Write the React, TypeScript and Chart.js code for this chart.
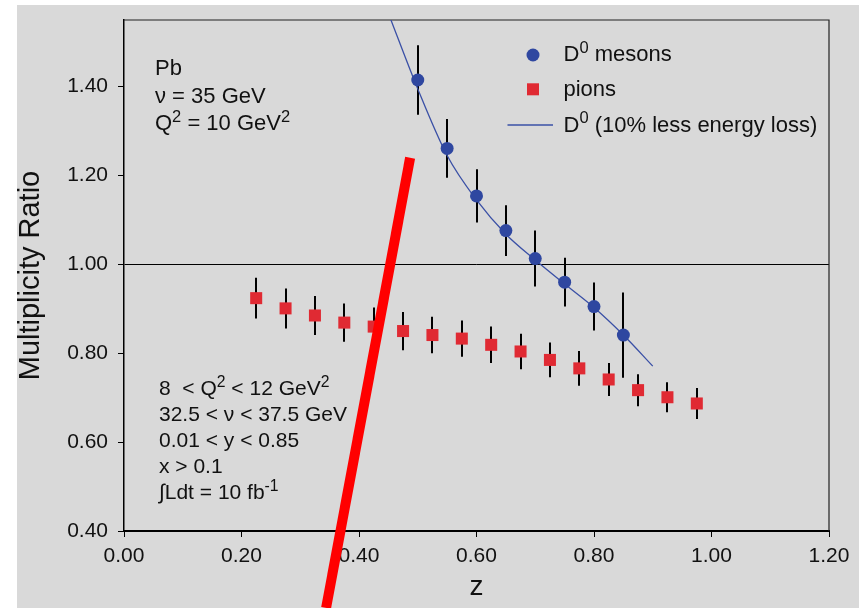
import React, { useEffect, useRef } from 'react';
import { Chart, registerables } from 'chart.js';

Chart.register(...registerables);

const FONT = '"Liberation Sans", Arial, Helvetica, sans-serif';

// D0 mesons (measured points)
const d0Z = [0.5, 0.55, 0.6, 0.65, 0.7, 0.75, 0.8, 0.85];
const d0Ratio = [1.415, 1.261, 1.154, 1.076, 1.013, 0.96, 0.905, 0.841];
const d0Err = [0.078, 0.066, 0.06, 0.057, 0.063, 0.055, 0.054, 0.096];

// pions
const pionZ = [0.225, 0.275, 0.325, 0.375, 0.425, 0.475, 0.525, 0.575, 0.625, 0.675, 0.725, 0.775, 0.825, 0.875, 0.925, 0.975];
const pionRatio = [0.924, 0.901, 0.885, 0.869, 0.86, 0.85, 0.841, 0.833, 0.819, 0.804, 0.785, 0.766, 0.741, 0.717, 0.701, 0.687];
const pionErr = [0.046, 0.045, 0.044, 0.043, 0.043, 0.043, 0.041, 0.041, 0.041, 0.04, 0.039, 0.039, 0.037, 0.036, 0.034, 0.035];

// D0 curve (10% less energy loss)
const curveZ = [0.45, 0.5, 0.55, 0.6, 0.65, 0.7, 0.75, 0.8, 0.85, 0.9];
const curveRatio = [1.565, 1.395, 1.245, 1.145, 1.068, 1.01, 0.956, 0.903, 0.841, 0.771];

// red overlay stroke (data coordinates of its two ends)
const redLineZ = [0.487, 0.344];
const redLineRatio = [1.24, 0.227];

const xTickValues = [0, 0.2, 0.4, 0.6, 0.8, 1.0, 1.2];
const yTickValues = [0.4, 0.6, 0.8, 1.0, 1.2, 1.4];

const infoLines = ['Pb', 'ν = 35 GeV', 'Q^{2} = 10 GeV^{2}'];
const cutLines = ['8  < Q^{2} < 12 GeV^{2}', '32.5 < ν < 37.5 GeV', '0.01 < y < 0.85', 'x > 0.1', '∫Ldt = 10 fb^{-1}'];
const legendLabels = ['D^{0} mesons', 'pions', 'D^{0} (10% less energy loss)'];

const BLUE = '#2f47a0';
const LINE_BLUE = '#3a50a6';
const RED = '#e02a33';
const BG = '#d9d9d9';

function parseRich(s: string) {
  const parts: { t: string; sup: boolean }[] = [];
  const re = /\^\{([^}]*)\}/g;
  let last = 0;
  let m: RegExpExecArray | null;
  while ((m = re.exec(s))) {
    if (m.index > last) parts.push({ t: s.slice(last, m.index), sup: false });
    parts.push({ t: m[1], sup: true });
    last = re.lastIndex;
  }
  if (last < s.length) parts.push({ t: s.slice(last), sup: false });
  return parts;
}

function drawRich(ctx: CanvasRenderingContext2D, s: string, x: number, y: number, size: number) {
  let cx = x;
  ctx.textAlign = 'left';
  ctx.textBaseline = 'alphabetic';
  for (const p of parseRich(s)) {
    const fs = p.sup ? size * 0.75 : size;
    ctx.font = `${fs}px ${FONT}`;
    ctx.fillText(p.t, cx, p.sup ? y - size * 0.38 : y);
    cx += ctx.measureText(p.t).width;
  }
}

const decorPlugin = {
  id: 'decor',
  beforeDraw(chart: any) {
    const ctx = chart.ctx as CanvasRenderingContext2D;
    ctx.save();
    ctx.fillStyle = BG;
    ctx.fillRect(17, 5, chart.width - 17, chart.height - 5);
    ctx.restore();
  },
  beforeDatasetsDraw(chart: any) {
    const ctx = chart.ctx as CanvasRenderingContext2D;
    const xs = chart.scales.x;
    const ys = chart.scales.y;
    const { left, top, right, bottom } = chart.chartArea;
    ctx.save();
    // frame top/right
    ctx.strokeStyle = '#222';
    ctx.lineWidth = 1.2;
    ctx.beginPath();
    ctx.moveTo(left, top);
    ctx.lineTo(right, top);
    ctx.lineTo(right, bottom);
    ctx.stroke();
    // error bars
    ctx.beginPath();
    ctx.rect(left, top, right - left, bottom - top);
    ctx.clip();
    ctx.strokeStyle = '#000';
    ctx.lineWidth = 2;
    const bars = (zs: number[], vs: number[], es: number[]) => {
      zs.forEach((z, i) => {
        const px = Math.round(xs.getPixelForValue(z));
        ctx.beginPath();
        ctx.moveTo(px, ys.getPixelForValue(vs[i] + es[i]));
        ctx.lineTo(px, ys.getPixelForValue(vs[i] - es[i]));
        ctx.stroke();
      });
    };
    bars(pionZ, pionRatio, pionErr);
    bars(d0Z, d0Ratio, d0Err);
    ctx.restore();
  },
  afterDraw(chart: any) {
    const ctx = chart.ctx as CanvasRenderingContext2D;
    const xs = chart.scales.x;
    const ys = chart.scales.y;
    const { left, top } = chart.chartArea;
    ctx.save();
    ctx.fillStyle = '#111';
    // info text top-left
    infoLines.forEach((s, i) => drawRich(ctx, s, left + 31, top + 55 + i * 27.5, 22));
    // cuts text bottom-left
    cutLines.forEach((s, i) => drawRich(ctx, s, left + 35, top + 375 + i * 26.1, 21));
    // legend
    const mx = left + 409;
    const tx = left + 439.5;
    ctx.fillStyle = BLUE;
    ctx.beginPath();
    ctx.arc(mx, top + 35, 6.5, 0, Math.PI * 2);
    ctx.fill();
    ctx.fillStyle = RED;
    ctx.fillRect(mx - 6, top + 69.3 - 6, 12, 12);
    ctx.strokeStyle = LINE_BLUE;
    ctx.lineWidth = 1.3;
    ctx.beginPath();
    ctx.moveTo(left + 383.5, top + 105);
    ctx.lineTo(left + 429, top + 105);
    ctx.stroke();
    ctx.fillStyle = '#111';
    const lb = [41, 75.5, 111.5];
    legendLabels.forEach((s, i) => drawRich(ctx, s, tx, top + lb[i], 22));
    // red overlay stroke
    ctx.strokeStyle = '#ff0000';
    ctx.lineWidth = 10;
    ctx.lineCap = 'butt';
    ctx.beginPath();
    ctx.moveTo(xs.getPixelForValue(redLineZ[0]), ys.getPixelForValue(redLineRatio[0]));
    ctx.lineTo(xs.getPixelForValue(redLineZ[1]), ys.getPixelForValue(redLineRatio[1]));
    ctx.stroke();
    ctx.restore();
  },
};

export default function App() {
  const ref = useRef<HTMLCanvasElement>(null);
  useEffect(() => {
    const canvas = ref.current!;
    const chart = new Chart(canvas, {
      type: 'scatter',
      data: {
        datasets: [
          {
            label: 'pions',
            data: pionZ.map((z, i) => ({ x: z, y: pionRatio[i] })),
            pointStyle: 'rect',
            pointRadius: 8.5,
            backgroundColor: RED,
            borderWidth: 0,
            showLine: false,
          },
          {
            label: 'D0 mesons',
            data: d0Z.map((z, i) => ({ x: z, y: d0Ratio[i] })),
            pointStyle: 'circle',
            pointRadius: 6.5,
            backgroundColor: BLUE,
            borderWidth: 0,
            showLine: false,
          },
          {
            label: 'D0 (10% less energy loss)',
            type: 'line',
            data: curveZ.map((z, i) => ({ x: z, y: curveRatio[i] })),
            borderColor: LINE_BLUE,
            borderWidth: 1.3,
            pointRadius: 0,
            cubicInterpolationMode: 'monotone',
            fill: false,
          } as any,
        ],
      },
      options: {
        responsive: false,
        animation: false,
        devicePixelRatio: 1,
        layout: { padding: { left: 0, top: 20, right: 30, bottom: 0 } },
        plugins: { legend: { display: false }, tooltip: { enabled: false } },
        scales: {
          x: {
            type: 'linear',
            position: 'bottom',
            min: 0,
            max: 1.2,
            afterBuildTicks: (s: any) => {
              s.ticks = xTickValues.map((v) => ({ value: v }));
            },
            afterFit: (s: any) => {
              s.height = 77;
              s.paddingLeft = 0;
              s.paddingRight = 0;
            },
            ticks: {
              callback: (v: any) => Number(v).toFixed(2),
              font: { family: FONT, size: 21 },
              color: '#111',
              padding: 7,
              maxRotation: 0,
              autoSkip: false,
            },
            grid: { drawOnChartArea: false, drawTicks: true, tickLength: 6, tickColor: '#000', tickWidth: 1 },
            border: { display: true, color: '#000', width: 2 },
            title: {
              display: true,
              text: 'z',
              color: '#111',
              font: { family: FONT, size: 28 },
              padding: { top: 0, bottom: 4 },
            },
          },
          y: {
            type: 'linear',
            min: 0.4,
            max: 1.55,
            afterBuildTicks: (s: any) => {
              s.ticks = yTickValues.map((v) => ({ value: v }));
            },
            afterFit: (s: any) => {
              s.width = 124;
              s.paddingTop = 0;
              s.paddingBottom = 0;
            },
            ticks: {
              callback: (v: any) => Number(v).toFixed(2),
              font: { family: FONT, size: 21 },
              color: '#111',
              padding: 10,
              autoSkip: false,
            },
            grid: {
              drawOnChartArea: true,
              drawTicks: true,
              tickLength: 6,
              tickColor: '#000',
              lineWidth: 1,
              color: (c: any) => (c.tick && Math.abs(c.tick.value - 1) < 1e-9 ? '#000' : 'rgba(0,0,0,0)'),
            },
            border: { display: true, color: '#000', width: 1.5 },
            title: {
              display: true,
              text: 'Multiplicity Ratio',
              color: '#111',
              font: { family: FONT, size: 29 },
              padding: { top: 14, bottom: 0 },
            },
          },
        },
      },
      plugins: [decorPlugin],
    } as any);
    return () => chart.destroy();
  }, []);
  return (
    <div style={{ position: 'absolute', left: 0, top: 0, width: 859, height: 608, background: '#fff' }}>
      <canvas ref={ref} width={859} height={608} style={{ display: 'block', width: 859, height: 608 }} />
    </div>
  );
}
